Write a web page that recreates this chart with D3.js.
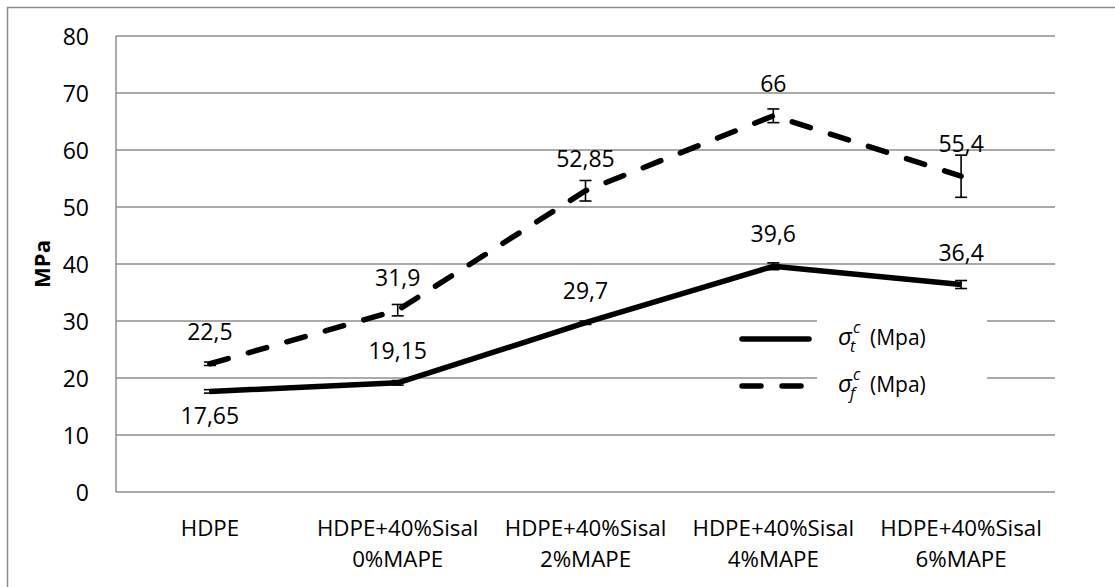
<!DOCTYPE html>
<html><head><meta charset="utf-8">
<script src="https://cdn.jsdelivr.net/npm/d3@7"></script>
<style>
html,body{margin:0;padding:0;background:#fff;}
svg{display:block;}
text{font-family:"Open Sans",sans-serif;fill:#000;}
</style></head>
<body>
<svg id="chart" width="1115" height="587"></svg>
<script>
const categories = [["HDPE"], ["HDPE+40%Sisal","0%MAPE"], ["HDPE+40%Sisal","2%MAPE"], ["HDPE+40%Sisal","4%MAPE"], ["HDPE+40%Sisal","6%MAPE"]];
const tensile = [17.65, 19.15, 29.7, 39.6, 36.4];
const tensileErr = [0.3, 0.4, 0.3, 0.6, 0.7];
const flexural = [22.5, 31.9, 52.85, 66, 55.4];
const flexuralErr = [0.3, 1.0, 1.8, 1.2, 3.7];
const yTicks = [0, 10, 20, 30, 40, 50, 60, 70, 80];
const yTitle = "MPa";
const legendSubs = ["t", "f"];

const svg = d3.select("#chart");
const pLeft = 116, pRight = 1055, pTop = 36, pBottom = 492;

// outer border
svg.append("rect").attr("x", 7.5).attr("y", 7.5).attr("width", 1120).attr("height", 600)
  .attr("fill", "#fff").attr("stroke", "#8c8c8c").attr("stroke-width", 1.5);

const x = d3.scaleBand().domain(d3.range(categories.length)).range([pLeft, pRight]);
const cx = i => x(i) + x.bandwidth() / 2;
const y = d3.scaleLinear().domain([0, 80]).range([pBottom, pTop]);

// gridlines
svg.append("g").selectAll("line").data(yTicks).join("line")
  .attr("x1", pLeft).attr("x2", pRight).attr("y1", d => y(d)).attr("y2", d => y(d))
  .attr("stroke", "#8e8e8e").attr("stroke-width", 1.5);
// y axis line
svg.append("line").attr("x1", pLeft).attr("x2", pLeft).attr("y1", pTop).attr("y2", pBottom)
  .attr("stroke", "#8e8e8e").attr("stroke-width", 1.5);

// y tick labels
svg.append("g").selectAll("text").data(yTicks).join("text")
  .attr("x", 89).attr("y", d => y(d)).attr("text-anchor", "end").attr("dominant-baseline", "central")
  .attr("font-size", 23).text(d => d);

// y title
svg.append("text").attr("transform", `translate(41,264) rotate(-90)`)
  .attr("text-anchor", "middle").attr("dominant-baseline", "central")
  .attr("font-size", 22).attr("font-weight", "bold").text(yTitle);

// x labels
const xl = svg.append("g").selectAll("text").data(categories).join("text")
  .attr("x", (d, i) => cx(i)).attr("y", 527).attr("text-anchor", "middle")
  .attr("dominant-baseline", "central").attr("font-size", 22.3);
xl.selectAll("tspan").data(d => d).join("tspan")
  .attr("x", function () { return d3.select(this.parentNode).attr("x"); })
  .attr("dy", (d, j) => j === 0 ? 0 : 31).text(d => d);

// legend background box (breaks gridlines)
svg.append("rect").attr("x", 817).attr("y", 312).attr("width", 170).attr("height", 92).attr("fill", "#fff");

const line = d3.line().x((d, i) => cx(i)).y(d => y(d));

function errorBars(vals, errs) {
  const g = svg.append("g").attr("stroke", "#000").attr("stroke-width", 1.6);
  vals.forEach((v, i) => {
    const x0 = cx(i);
    g.append("line").attr("x1", x0).attr("x2", x0).attr("y1", y(v - errs[i])).attr("y2", y(v + errs[i]));
    g.append("line").attr("x1", x0 - 6).attr("x2", x0 + 6).attr("y1", y(v - errs[i])).attr("y2", y(v - errs[i]));
    g.append("line").attr("x1", x0 - 6).attr("x2", x0 + 6).attr("y1", y(v + errs[i])).attr("y2", y(v + errs[i]));
  });
}

// series lines
svg.append("path").datum(tensile).attr("d", line).attr("fill", "none")
  .attr("stroke", "#000").attr("stroke-width", 5.5).attr("stroke-linejoin", "round").attr("stroke-linecap", "butt");
svg.append("path").datum(flexural).attr("d", line).attr("fill", "none")
  .attr("stroke", "#000").attr("stroke-width", 5.5).attr("stroke-linecap", "round")
  .attr("stroke-dasharray", "19,21");

errorBars(tensile, tensileErr);
errorBars(flexural, flexuralErr);

const fmt = v => String(v).replace(".", ",");
// data labels
svg.append("g").selectAll("text").data(tensile).join("text")
  .attr("x", (d, i) => cx(i)).attr("y", (d, i) => y(d) + (i === 0 ? 24 : -33))
  .attr("text-anchor", "middle").attr("dominant-baseline", "central").attr("font-size", 23)
  .text(fmt);
svg.append("g").selectAll("text").data(flexural).join("text")
  .attr("x", (d, i) => cx(i)).attr("y", d => y(d) - 33)
  .attr("text-anchor", "middle").attr("dominant-baseline", "central").attr("font-size", 23)
  .text(fmt);

// legend
const legY = [339, 386];
svg.append("line").attr("x1", 742).attr("x2", 809).attr("y1", legY[0]).attr("y2", legY[0])
  .attr("stroke", "#000").attr("stroke-width", 5.5).attr("stroke-linecap", "round");
svg.append("line").attr("x1", 742).attr("x2", 809).attr("y1", legY[1]).attr("y2", legY[1])
  .attr("stroke", "#000").attr("stroke-width", 5.5).attr("stroke-linecap", "round").attr("stroke-dasharray", "19,21");

legendSubs.forEach((s, k) => {
  const g = svg.append("g").attr("transform", `translate(838,${legY[k] - 2})`);
  const sig = g.append("text").attr("x", 0).attr("y", 8).attr("font-family", "DejaVu Serif")
    .attr("font-style", "italic").attr("font-size", 24).text("σ");
  const w = sig.node().getComputedTextLength();
  g.append("text").attr("x", w + 1).attr("y", -4).attr("font-family", "DejaVu Serif")
    .attr("font-style", "italic").attr("font-size", 16).text("c");
  g.append("text").attr("x", w - 2).attr("y", 15).attr("font-family", "DejaVu Serif")
    .attr("font-style", "italic").attr("font-size", 16).text(s);
  g.append("text").attr("x", 870 - 838).attr("y", 0).attr("dominant-baseline", "central")
    .attr("font-size", 21).text("(Mpa)");
});
</script>
</body></html>
